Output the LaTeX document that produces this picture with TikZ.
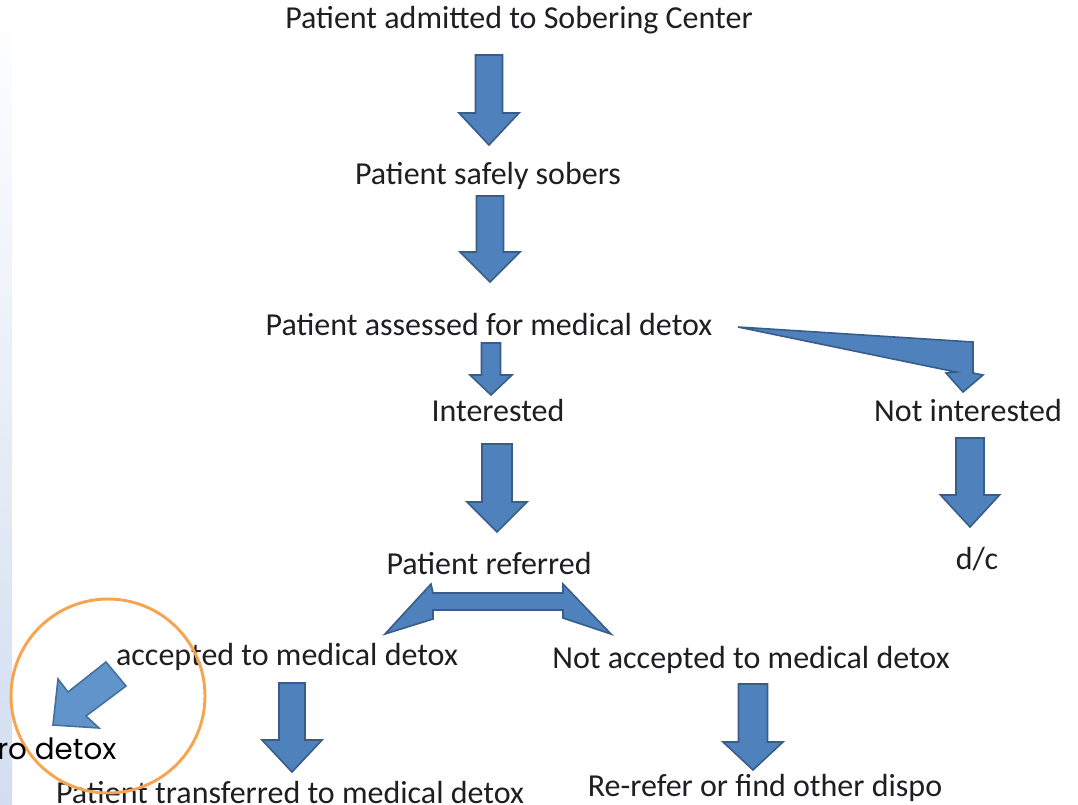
\documentclass[tikz,border=0pt]{standalone}
\usepackage{fontspec}
\setmainfont{Carlito}
\newfontfamily\geofont{Poppins}
\begin{document}
\begin{tikzpicture}[x=0.75pt,y=-0.75pt,
  lbl/.style={inner sep=0pt, text=textdark, font=\fontsize{24}{28}\selectfont},
  blockarrow/.style={draw=arrowedge, fill=arrowfill, line width=1.2pt, line join=miter},
  callout/.style={draw=calloutedge, fill=calloutfill, line width=1.2pt, line join=miter}]
\definecolor{textdark}{RGB}{30,30,35}
\definecolor{arrowfill}{RGB}{79,129,189}
\definecolor{arrowedge}{RGB}{56,93,138}
\definecolor{calloutfill}{RGB}{96,148,202}
\definecolor{calloutedge}{RGB}{65,113,156}
\definecolor{ringorange}{RGB}{246,164,80}
\definecolor{stripblue}{RGB}{210,221,240}

% downward block arrow: centre x, top, head start, tip, shaft half-width, wing half-width
\newcommand{\dnarrow}[6]{%
  \draw[blockarrow] (#1-#5,#2) -- (#1+#5,#2) -- (#1+#5,#3) -- (#1+#6,#3)
     -- (#1,#4) -- (#1-#6,#3) -- (#1-#5,#3) -- cycle;}

\useasboundingbox (0,0) rectangle (1078,804);
\fill[white] (0,0) rectangle (1078,804);
% side band
\shade[top color=white, bottom color=stripblue] (0,0) rectangle (12,804);

% labels
\node[lbl] (admit)  at (519,20)  {Patient admitted to Sobering Center};
\node[lbl] (sober)  at (488,176) {Patient safely sobers};
\node[lbl] (assess) at (489,324) {Patient assessed for medical detox};
\node[lbl] (inter)  at (498,410) {Interested};
\node[lbl] (notint) at (968,410) {Not interested};
\node[lbl] (dc)     at (977,559) {d/c};
\node[lbl] (refer)  at (489,563) {Patient referred};
\node[lbl] (acc)    at (287,657) {accepted to medical detox};
\node[lbl] (notacc) at (751,660) {Not accepted to medical detox};
\node[lbl] (transf) at (290,792) {Patient transferred to medical detox};
\node[lbl] (rerefer) at (765,788) {Re-refer or find other dispo};

% block arrows between the steps
\dnarrow{489}{55}{113}{145}{13.5}{30}
\dnarrow{490}{196}{252}{282}{13.5}{30}
\dnarrow{491}{343}{375}{395}{9.5}{21}
\dnarrow{497}{444}{502}{532}{15}{30}
\dnarrow{970}{438}{495}{527}{14}{29.5}
\dnarrow{292}{683}{740}{772}{13}{30}
\dnarrow{753}{684}{742}{770}{14.5}{30}

% wedge arrow to the "not interested" branch
\draw[blockarrow] (738,327) -- (973,342) -- (973,373) -- (983,375) -- (963,392)
  -- (946,373) -- (956,372) -- cycle;

% double-headed split arrow under "Patient referred"
\draw[blockarrow] (385,634) -- (431,584) -- (433,593) -- (563,593) -- (563,584)
  -- (611,634) -- (563,618) -- (563,610) -- (433,610) -- (433,619) -- cycle;

% highlight ring with its pointer
\draw[ringorange, line width=2.2pt] (108,696) circle[radius=97];
\draw[callout] (106,662) -- (126,686) -- (86,716) -- (99,728) -- (53,725)
  -- (58,679) -- (68,692) -- cycle;
\node[inner sep=0pt, anchor=west, text=black, font=\geofont\fontsize{22}{26}\selectfont]
  (todetox) at (-3,749) {ro detox};
\end{tikzpicture}
\end{document}
